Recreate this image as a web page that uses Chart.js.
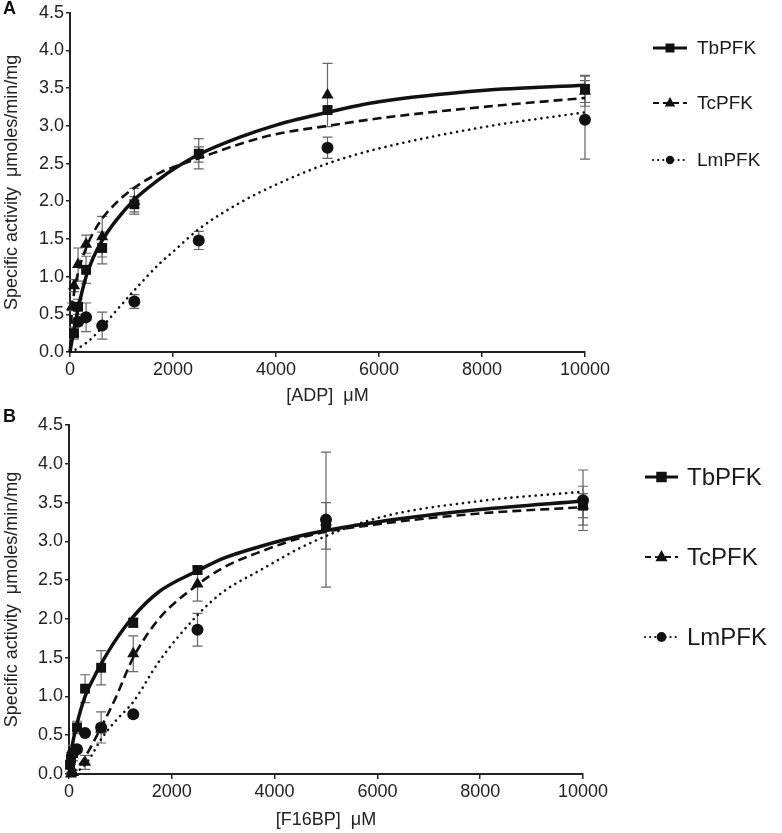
<!DOCTYPE html>
<html><head><meta charset="utf-8">
<script src="https://cdn.jsdelivr.net/npm/chart.js@4.4.1/dist/chart.umd.min.js"></script>
<style>
html,body{margin:0;padding:0;background:#fff;}
#wrap{position:relative;width:782px;height:833px;overflow:hidden;}
canvas{position:absolute;left:0;}
.lbl{position:absolute;font:bold 18px "Liberation Sans",Arial,sans-serif;color:#111;}
</style></head><body>
<div id="wrap">
<canvas id="cA" width="782" height="405" style="top:0"></canvas>
<canvas id="cB" width="782" height="428" style="top:405px"></canvas>
<div class="lbl" style="left:3px;top:-2px">A</div>
<div class="lbl" style="left:3px;top:406px">B</div>
</div>
<script>
// ---------- Shared labels ----------
const seriesNames = ['TbPFK', 'TcPFK', 'LmPFK'];
const xTicks = [0, 2000, 4000, 6000, 8000, 10000];
const yTicks = [0, 0.5, 1, 1.5, 2, 2.5, 3, 3.5, 4, 4.5];
const yTitle = 'Specific activity  \u03bcmoles/min/mg';
const xTitleA = '[ADP]  \u03bcM';
const xTitleB = '[F16BP]  \u03bcM';

// ---------- Panel A (ADP) measured points ----------
const tbA_x = [78, 156, 312.5, 625, 1250, 2500, 5000, 10000];
const tbA_y = [0.25, 0.60, 1.09, 1.38, 1.96, 2.63, 3.21, 3.49];
const tbA_e = [0.08, 0.10, 0.18, 0.21, 0.10, 0.20, 0.05, 0.18];
const tcA_x = [39, 78, 156, 312.5, 625, 1250, 2500, 5000, 10000];
const tcA_y = [0.60, 0.88, 1.16, 1.43, 1.53, 2.00, 2.62, 3.41, 3.46];
const tcA_e = [0.05, 0.08, 0.22, 0.12, 0.27, 0.17, 0.10, 0.42, 0.20];
const lmA_x = [156, 312.5, 625, 1250, 2500, 5000, 10000];
const lmA_y = [0.40, 0.46, 0.35, 0.67, 1.48, 2.71, 3.08];
const lmA_e = [0.05, 0.19, 0.18, 0.09, 0.12, 0.14, 0.52];
// Panel A fitted curves
const curveA_x = [0, 20, 40, 78, 156, 312.5, 450, 625, 900, 1250, 1750, 2000, 2500, 3300, 4000, 5000, 6000, 8000, 10000];
const tbA_fit  = [0, 0.08, 0.16, 0.30, 0.57, 1.00, 1.25, 1.48, 1.75, 2.02, 2.30, 2.42, 2.62, 2.85, 3.01, 3.18, 3.32, 3.47, 3.54];
const tcA_fit  = [0, 0.35, 0.55, 0.78, 1.05, 1.38, 1.58, 1.77, 1.98, 2.18, 2.38, 2.45, 2.57, 2.76, 2.89, 3.00, 3.10, 3.25, 3.37];
const lmA_fit  = [0, 0, 0.01, 0.02, 0.05, 0.12, 0.20, 0.33, 0.55, 0.82, 1.18, 1.33, 1.63, 1.98, 2.22, 2.50, 2.70, 2.98, 3.18];

// ---------- Panel B (F16BP) measured points ----------
const tbB_x = [20, 39, 78, 156, 312.5, 625, 1250, 2500, 5000, 10000];
const tbB_y = [0.12, 0.20, 0.27, 0.60, 1.10, 1.37, 1.95, 2.63, 3.20, 3.46];
const tbB_e = [0.05, 0.08, 0.10, 0.08, 0.18, 0.22, 0.06, 0.05, 0.30, 0.25];
const tcB_x = [39, 78, 312.5, 625, 1250, 2500, 5000, 10000];
const tcB_y = [0.00, 0.02, 0.15, 0.58, 1.55, 2.45, 3.25, 3.46];
const tcB_e = [0.02, 0.03, 0.09, 0.05, 0.23, 0.22, 0.05, 0.155];
const lmB_x = [78, 156, 312.5, 625, 1250, 2500, 5000, 10000];
const lmB_y = [0.27, 0.32, 0.53, 0.60, 0.77, 1.86, 3.28, 3.53];
const lmB_e = [0.05, 0.04, 0.03, 0.20, 0.03, 0.21, 0.87, 0.39];
// Panel B fitted curves
const curveB_x = [0, 40, 78, 156, 312.5, 450, 625, 900, 1250, 1750, 2500, 3000, 3700, 4700, 6000, 8000, 10000];
const tbB_fit  = [0, 0.25, 0.42, 0.65, 1.00, 1.20, 1.42, 1.72, 2.03, 2.35, 2.62, 2.78, 2.93, 3.10, 3.25, 3.41, 3.52];
const tcB_fit  = [0, 0.01, 0.03, 0.08, 0.22, 0.38, 0.60, 0.97, 1.50, 2.00, 2.44, 2.66, 2.86, 3.08, 3.22, 3.36, 3.44];
const lmB_fit  = [0, 0, 0, 0.03, 0.12, 0.25, 0.45, 0.68, 0.93, 1.45, 2.05, 2.35, 2.62, 2.98, 3.30, 3.52, 3.64];

// ---------- helpers ----------
const FONT = '"Liberation Sans", Arial, sans-serif';
const INK = '#111';
const zip = (xs, ys) => xs.map((x, i) => ({x: x, y: ys[i]}));

const errorBarPlugin = {
  id: 'errbars',
  beforeDatasetsDraw(chart) {
    const {ctx, scales: {x, y}} = chart;
    ctx.save();
    ctx.strokeStyle = '#666';
    ctx.lineWidth = 1.2;
    chart.data.datasets.forEach(ds => {
      if (!ds.errors) return;
      ds.data.forEach((p, i) => {
        const e = ds.errors[i];
        if (!e) return;
        const px = x.getPixelForValue(p.x);
        const yt = y.getPixelForValue(p.y + e);
        const yb = y.getPixelForValue(Math.max(0, p.y - e));
        ctx.beginPath();
        ctx.moveTo(px, yt); ctx.lineTo(px, yb);
        ctx.moveTo(px - 5, yt); ctx.lineTo(px + 5, yt);
        ctx.moveTo(px - 5, yb); ctx.lineTo(px + 5, yb);
        ctx.stroke();
      });
    });
    ctx.restore();
  }
};

function drawMarker(ctx, style, cx, cy, r) {
  ctx.beginPath();
  if (style === 'rect') {
    const s = r * 0.75;
    ctx.rect(cx - s, cy - s, 2 * s, 2 * s);
  } else if (style === 'triangle') {
    ctx.moveTo(cx, cy - r);
    ctx.lineTo(cx + r * 0.87, cy + r * 0.6);
    ctx.lineTo(cx - r * 0.87, cy + r * 0.6);
    ctx.closePath();
  } else {
    ctx.arc(cx, cy, r * 0.7, 0, Math.PI * 2);
  }
  ctx.fill();
}

const legendPlugin = {
  id: 'customLegend',
  afterDraw(chart, args, o) {
    if (!o || !o.items) return;
    const ctx = chart.ctx;
    o.items.forEach((it, i) => {
      const y = o.rows[i];
      ctx.save();
      ctx.strokeStyle = INK;
      ctx.lineWidth = it.lw;
      ctx.lineCap = it.cap;
      ctx.setLineDash(it.dash);
      ctx.beginPath();
      ctx.moveTo(o.x0, y); ctx.lineTo(o.x1, y);
      ctx.stroke();
      ctx.setLineDash([]);
      ctx.fillStyle = INK;
      drawMarker(ctx, it.style, (o.x0 + o.x1) / 2, y, o.r);
      ctx.font = o.size + 'px ' + FONT;
      ctx.textBaseline = 'middle';
      ctx.textAlign = 'left';
      ctx.fillStyle = '#1a1a1a';
      ctx.fillText(it.label, o.tx, y + 1);
      ctx.restore();
    });
  }
};

const lineStyles = [
  {lw: 3.5, dash: [], cap: 'butt', style: 'rect', radius: 7},
  {lw: 2.6, dash: [9, 5], cap: 'butt', style: 'triangle', radius: 7},
  {lw: 2.6, dash: [0.1, 6], cap: 'round', style: 'circle', radius: 6}
];

function buildChart(canvas, p) {
  const pts = [p.tb, p.tc, p.lm];
  const fits = [p.tbFit, p.tcFit, p.lmFit];
  const datasets = [];
  pts.forEach((s, i) => {
    datasets.push({
      label: seriesNames[i] + ' data',
      data: zip(s.x, s.y),
      errors: s.e,
      showLine: false,
      pointStyle: lineStyles[i].style,
      pointRadius: lineStyles[i].radius,
      pointBackgroundColor: INK,
      pointBorderColor: INK,
      pointBorderWidth: 0,
      clip: false
    });
  });
  fits.forEach((f, i) => {
    datasets.push({
      label: seriesNames[i],
      data: zip(p.curveX, f),
      showLine: true,
      pointRadius: 0,
      borderColor: INK,
      borderWidth: lineStyles[i].lw,
      borderDash: lineStyles[i].dash,
      borderCapStyle: lineStyles[i].cap,
      cubicInterpolationMode: 'monotone',
      fill: false,
      clip: false
    });
  });
  const tickFont = {family: FONT, size: 18};
  return new Chart(canvas, {
    type: 'scatter',
    data: {datasets: datasets},
    plugins: [errorBarPlugin, legendPlugin],
    options: {
      responsive: false,
      animation: false,
      devicePixelRatio: 1,
      events: [],
      layout: {padding: {left: 0, top: p.top, right: p.right, bottom: 0}},
      plugins: {
        legend: {display: false},
        tooltip: {enabled: false},
        customLegend: {
          x0: p.leg.x0, x1: p.leg.x1, tx: p.leg.tx, rows: p.leg.rows, size: p.leg.size, r: p.leg.r,
          items: seriesNames.map((n, i) => ({label: n, lw: lineStyles[i].lw * 0.85, dash: i === 0 ? [] : (i === 1 ? [6, 4] : [0.1, 5]), cap: lineStyles[i].cap, style: lineStyles[i].style}))
        }
      },
      scales: {
        x: {
          type: 'linear', min: 0, max: 10000,
          afterBuildTicks: s => { s.ticks = xTicks.map(v => ({value: v})); },
          afterFit: s => { s.height = p.xH; },
          ticks: {font: tickFont, color: '#222', padding: 2, maxRotation: 0, callback: v => String(v)},
          grid: {drawOnChartArea: false, drawTicks: true, tickLength: 5, color: '#222', lineWidth: 1.5},
          border: {display: true, color: '#222', width: 2},
          title: {display: true, text: p.xTitle, font: {family: FONT, size: 18, lineHeight: 1}, color: '#222', padding: {top: 0, bottom: p.xTitlePad}}
        },
        y: {
          type: 'linear', min: 0, max: 4.5,
          afterBuildTicks: s => { s.ticks = yTicks.map(v => ({value: v})); },
          afterFit: s => { s.width = p.yW; },
          ticks: {font: tickFont, color: '#222', padding: 2, callback: v => v.toFixed(1)},
          grid: {drawOnChartArea: false, drawTicks: true, tickLength: 4, color: '#222', lineWidth: 1.5},
          border: {display: true, color: '#222', width: 2},
          title: {display: true, text: yTitle, font: {family: FONT, size: 18, lineHeight: 1}, color: '#222', padding: {top: 3, bottom: 0}}
        }
      }
    }
  });
}

buildChart(document.getElementById('cA'), {
  tb: {x: tbA_x, y: tbA_y, e: tbA_e},
  tc: {x: tcA_x, y: tcA_y, e: tcA_e},
  lm: {x: lmA_x, y: lmA_y, e: lmA_e},
  curveX: curveA_x, tbFit: tbA_fit, tcFit: tcA_fit, lmFit: lmA_fit,
  top: 10, right: 197, xH: 53, yW: 70, xTitle: xTitleA, xTitlePad: 0,
  leg: {x0: 653, x1: 687, tx: 697, rows: [48, 103, 160], size: 19, r: 6}
});

buildChart(document.getElementById('cB'), {
  tb: {x: tbB_x, y: tbB_y, e: tbB_e},
  tc: {x: tcB_x, y: tcB_y, e: tcB_e},
  lm: {x: lmB_x, y: lmB_y, e: lmB_e},
  curveX: curveB_x, tbFit: tbB_fit, tcFit: tcB_fit, lmFit: lmB_fit,
  top: 20, right: 199, xH: 59, yW: 69, xTitle: xTitleB, xTitlePad: 4,
  leg: {x0: 645, x1: 678, tx: 687, rows: [477, 557, 637].map(v => v - 405), size: 24, r: 7}
});
</script>
</body></html>
